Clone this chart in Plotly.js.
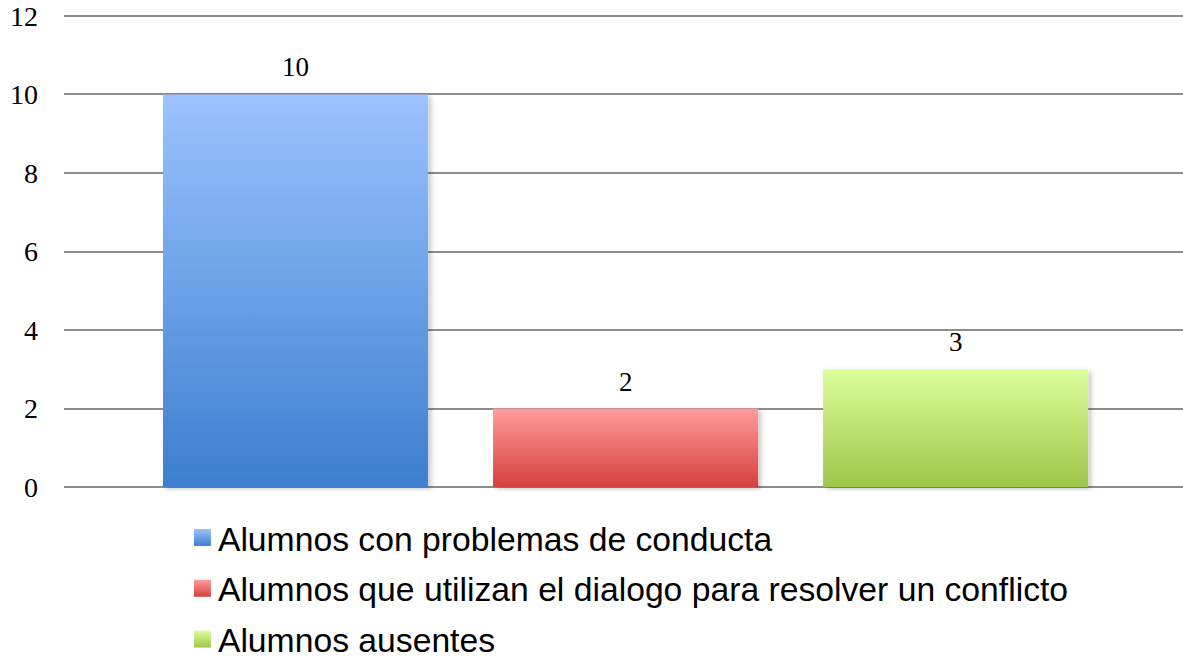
<!DOCTYPE html>
<html>
<head>
<meta charset="utf-8">
<script src="https://cdn.plot.ly/plotly-3.0.1.min.js"></script>
<style>
html,body{margin:0;padding:0;background:#fff;}
#chart{width:1183px;height:660px;}
</style>
</head>
<body>
<svg width="0" height="0" style="position:absolute">
  <defs>
    <linearGradient id="g0" x1="0" y1="0" x2="0" y2="1">
      <stop offset="0" stop-color="#9BC3FF"/>
      <stop offset="1" stop-color="#3C7ECF"/>
    </linearGradient>
    <linearGradient id="g1" x1="0" y1="0" x2="0" y2="1">
      <stop offset="0" stop-color="#FF9C9C"/>
      <stop offset="1" stop-color="#D5403D"/>
    </linearGradient>
    <linearGradient id="g2" x1="0" y1="0" x2="0" y2="1">
      <stop offset="0" stop-color="#DCFF9C"/>
      <stop offset="1" stop-color="#9CC74A"/>
    </linearGradient>
    <filter id="shadow" x="-10%" y="-10%" width="130%" height="130%">
      <feDropShadow dx="3" dy="2" stdDeviation="2.5" flood-color="#000" flood-opacity="0.22"/>
    </filter>
  </defs>
</svg>
<div id="chart"></div>
<script>
const categories = ["Alumnos con problemas de conducta", "Alumnos que utilizan el dialogo para resolver un conflicto", "Alumnos ausentes"];
const values = [10, 2, 3];
const colors = ["#6A9EE8", "#EC7170", "#BEE374"];
const gradIds = ["g0", "g1", "g2"];
const yTicks = [0, 2, 4, 6, 8, 10, 12];

const traces = categories.map((c, i) => ({
  type: "bar",
  x: [c],
  y: [values[i]],
  name: c,
  legendgroup: "g" + i,
  width: 0.803,
  marker: {color: colors[i], line: {width: 0}},
  hoverinfo: "skip"
}));

const annotations = categories.map((c, i) => ({
  x: c, y: values[i], xref: "x", yref: "y",
  text: String(values[i]), showarrow: false,
  yanchor: "middle", yshift: 27,
  font: {family: "Liberation Serif, serif", size: 27, color: "#000"}
}));

const layout = {
  width: 1183, height: 660,
  margin: {l: 64, r: 0, t: 11.6, b: 168.9, autoexpand: false},
  paper_bgcolor: "#fff", plot_bgcolor: "#fff",
  barmode: "overlay",
  showlegend: true,
  xaxis: {
    type: "category",
    categoryorder: "array", categoryarray: categories,
    range: [-0.7015, 2.689],
    showticklabels: false, showgrid: false, zeroline: false, showline: false, ticks: ""
  },
  yaxis: {
    range: [-0.1, 12.1], tickvals: yTicks, ticktext: yTicks.map(String),
    showgrid: true, gridcolor: "#8C8C8C", gridwidth: 2,
    zeroline: false, showline: false, ticks: "",
    ticklabelstandoff: 25,
    tickfont: {family: "Liberation Serif, serif", size: 28, color: "#000"}
  },
  legend: {
    orientation: "v",
    x: 0.1018, xanchor: "left",
    y: -0.0377, yanchor: "top",
    tracegroupgap: 4,
    font: {family: "Liberation Sans, Arial, sans-serif", size: 33.7, color: "#000"},
    bgcolor: "rgba(0,0,0,0)"
  },
  annotations: annotations
};

function applyGradients() {
  const gd = document.getElementById("chart");
  const barGroups = gd.querySelectorAll(".barlayer .trace");
  barGroups.forEach((g, i) => {
    g.querySelectorAll("path").forEach(p => {
      p.style.fill = "url(#" + gradIds[i] + ")";
      p.setAttribute("filter", "url(#shadow)");
    });
  });
  const legItems = gd.querySelectorAll(".legend .traces");
  legItems.forEach((t, i) => {
    t.querySelectorAll(".legendpoints path").forEach(p => {
      p.setAttribute("d", "M13,8.5H-4V-8.5H13Z");
      p.style.fill = "url(#" + gradIds[i] + ")";
      p.style.stroke = "none";
    });
  });
}

Plotly.newPlot("chart", traces, layout, {displayModeBar: false, staticPlot: true}).then(applyGradients);
</script>
</body>
</html>
